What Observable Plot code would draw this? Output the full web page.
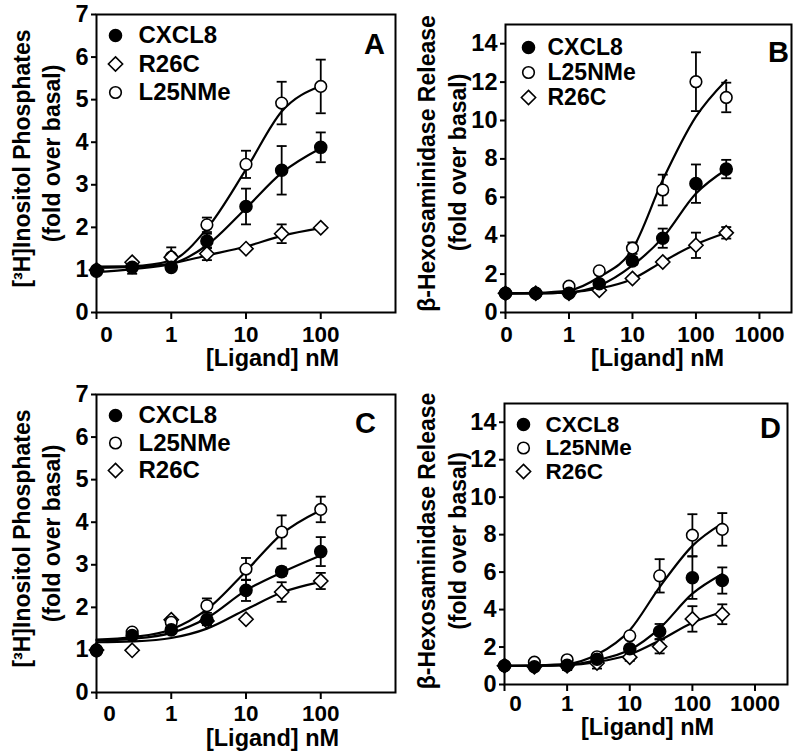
<!DOCTYPE html>
<html><head><meta charset="utf-8">
<script src="https://cdn.jsdelivr.net/npm/d3@7"></script>
<script src="https://cdn.jsdelivr.net/npm/@observablehq/plot@0.6"></script>
<style>
body{margin:0;background:#fff;}
#root{position:relative;width:800px;height:755px;background:#fff;}
#root svg{position:absolute;overflow:visible;}
</style></head><body><div id="root"></div>
<script>
const FONT = '"Liberation Sans", Arial, Helvetica, sans-serif';

// ---------- data ----------
const doses7 = [0, 0.3, 1, 3, 10, 30, 100];
const doses8 = [0, 0.3, 1, 3, 10, 30, 100, 300];

// Panel A : [3H]Inositol Phosphates
const A_CXCL8 = [0.97, 1.06, 1.06, 1.68, 2.49, 3.34, 3.88];
const A_CXCL8_err = [0, 0.15, 0.05, 0.17, 0.42, 0.57, 0.35];
const A_CXCL8_fit = [0.95, 1.02, 1.14, 1.58, 2.45, 3.28, 3.86];
const A_R26C = [1.0, 1.18, 1.3, 1.38, 1.5, 1.85, 1.99];
const A_R26C_err = [0, 0.05, 0.05, 0.15, 0.05, 0.22, 0.05];
const A_R26C_fit = [1.05, 1.07, 1.15, 1.34, 1.55, 1.8, 1.98];
const A_L25NMe = [1.0, 1.1, 1.3, 2.06, 3.48, 4.92, 5.31];
const A_L25NMe_err = [0, 0.05, 0.23, 0.17, 0.32, 0.5, 0.63];
const A_L25NMe_fit = [1.08, 1.09, 1.22, 1.97, 3.36, 4.72, 5.32];

// Panel B : beta-Hexosaminidase Release
const B_CXCL8 = [1.0, 1.0, 1.0, 1.5, 2.68, 3.87, 6.71, 7.47];
const B_CXCL8_err = [0, 0, 0, 0.1, 0.2, 0.5, 1.0, 0.48];
const B_CXCL8_fit = [1.0, 1.0, 1.05, 1.4, 2.45, 3.9, 6.2, 7.45];
const B_L25NMe = [1.0, 1.0, 1.37, 2.17, 3.35, 6.38, 12.02, 11.2];
const B_L25NMe_err = [0, 0, 0.1, 0.1, 0.3, 0.8, 1.53, 0.77];
const B_L25NMe_fit = [1.0, 1.02, 1.15, 1.85, 3.3, 6.9, 10.2, 12.1];
const B_R26C = [1.0, 1.0, 1.0, 1.16, 1.77, 2.63, 3.5, 4.15];
const B_R26C_err = [0, 0, 0, 0.1, 0.1, 0.1, 0.66, 0.3];
const B_R26C_fit = [1.0, 1.0, 1.05, 1.25, 1.75, 2.65, 3.55, 4.15];

// Panel C : [3H]Inositol Phosphates
const C_CXCL8 = [0.98, 1.34, 1.47, 1.71, 2.4, 2.84, 3.31];
const C_CXCL8_err = [0, 0.05, 0.05, 0.1, 0.25, 0.1, 0.34];
const C_CXCL8_fit = [1.22, 1.26, 1.4, 1.75, 2.4, 2.82, 3.22];
const C_L25NMe = [1.0, 1.42, 1.65, 2.04, 2.9, 3.77, 4.3];
const C_L25NMe_err = [0, 0.05, 0.05, 0.17, 0.26, 0.39, 0.3];
const C_L25NMe_fit = [1.24, 1.3, 1.48, 1.95, 2.85, 3.72, 4.28];
const C_R26C = [1.0, 0.99, 1.71, 1.68, 1.72, 2.36, 2.62];
const C_R26C_err = [0, 0.05, 0.05, 0.1, 0.05, 0.23, 0.19];
const C_R26C_fit = [1.18, 1.2, 1.28, 1.5, 1.95, 2.35, 2.6];

// Panel D : beta-Hexosaminidase Release
const D_CXCL8 = [1.0, 0.95, 1.02, 1.35, 1.91, 2.83, 5.7, 5.55];
const D_CXCL8_err = [0, 0.05, 0.25, 0.1, 0.1, 0.4, 1.13, 0.7];
const D_CXCL8_fit = [1.0, 1.0, 1.05, 1.3, 1.85, 3.0, 4.85, 5.9];
const D_L25NMe = [1.0, 1.19, 1.32, 1.48, 2.6, 5.8, 7.97, 8.28];
const D_L25NMe_err = [0, 0.05, 0.1, 0.1, 0.1, 0.89, 1.12, 0.87];
const D_L25NMe_fit = [1.0, 1.02, 1.1, 1.6, 2.9, 5.2, 7.4, 8.6];
const D_R26C = [1.0, 0.95, 1.0, 1.15, 1.46, 2.03, 3.5, 3.75];
const D_R26C_err = [0, 0.05, 0.1, 0.3, 0.2, 0.37, 0.68, 0.53];
const D_R26C_fit = [1.0, 1.0, 1.03, 1.2, 1.6, 2.35, 3.3, 3.87];

const ipTitle = ["[³H]Inositol Phosphates", "(fold over basal)"];
const hexTitle = ["β-Hexosaminidase Release", "(fold over basal)"];
const xTitle = "[Ligand] nM";
const ticks7 = [0, 1, 2, 3, 4, 5, 6, 7];
const ticks14 = [0, 2, 4, 6, 8, 10, 12, 14];
const xTicks3 = [0.1, 1, 10, 100];
const xTicks4 = [0.1, 1, 10, 100, 1000];
const xTickLabels3 = ["0", "1", "10", "100"];
const xTickLabels4 = ["0", "1", "10", "100", "1000"];

// ---------- rendering ----------
const styles = {
  CXCL8: {symbol: "circle", fill: "black", r: 6},
  L25NMe: {symbol: "circle", fill: "white", r: 5.8},
  R26C: {symbol: "diamond2", fill: "white", r: 6.4}
};
const capSymbol = {draw(ctx, size) {const r = Math.sqrt(size / Math.PI); ctx.moveTo(-r, 0); ctx.lineTo(r, 0);}};
const pos = d => (d === 0 ? 0.1 : d);
const TICK = 23.5;
const XTICK = 22.5;

function panel(cfg) {
  const rows = [], fits = [];
  for (const s of cfg.series) {
    s.mean.forEach((m, i) => rows.push({series: s.name, x: pos(cfg.doses[i]), mean: m, err: s.err[i]}));
    s.fit.forEach((v, i) => fits.push({series: s.name, x: pos(cfg.doses[i]), y: v}));
  }
  const withErr = rows.filter(d => d.err > 0);
  const m = cfg.margin;
  const xLab = cfg.xTicks.map((t, i) => ({x: t, label: cfg.xLabels[i]}));
  const marks = [
    Plot.line(fits, {x: "x", y: "y", z: "series", curve: "monotone-x", stroke: "black", strokeWidth: 2.2}),
    Plot.ruleX(withErr, {x: "x", y1: d => d.mean - d.err, y2: d => d.mean + d.err, stroke: "black", strokeWidth: 1.8}),
    Plot.dot(withErr, {x: "x", y: d => d.mean + d.err, symbol: capSymbol, r: 5, fill: "none", stroke: "black", strokeWidth: 1.8}),
    Plot.dot(withErr, {x: "x", y: d => d.mean - d.err, symbol: capSymbol, r: 5, fill: "none", stroke: "black", strokeWidth: 1.8})
  ];
  for (const s of [...cfg.series].reverse()) {
    const st = styles[s.name];
    marks.push(Plot.dot(rows.filter(d => d.series === s.name), {x: "x", y: "mean", symbol: st.symbol, r: st.r, fill: st.fill, stroke: "black", strokeWidth: 1.6}));
  }
  // legend
  cfg.legendOrder.forEach((name, i) => {
    const st = styles[name];
    marks.push(Plot.dot([name], {frameAnchor: "top-left", dx: cfg.legend.dx, dy: cfg.legend.dy + i * cfg.legend.gap, symbol: st.symbol, r: st.r, fill: st.fill, stroke: "black", strokeWidth: 1.6}));
    marks.push(Plot.text([name], {frameAnchor: "top-left", dx: cfg.legend.tx, dy: cfg.legend.dy + i * cfg.legend.gap, text: d => d, textAnchor: "start", lineAnchor: "middle", fontSize: cfg.legend.fs, fontWeight: "bold", fill: "black"}));
  });
  const zero = xLab.filter(d => d.x === 0.1);
  const rest = xLab.filter(d => d.x !== 0.1);
  marks.push(
    Plot.text([cfg.letter], {frameAnchor: "top-right", dx: cfg.letterPos[0], dy: cfg.letterPos[1], text: d => d, textAnchor: "middle", lineAnchor: "middle", fontSize: 29, fontWeight: "bold", fill: "black"}),
    Plot.frame({stroke: "black", strokeWidth: 2}),
    Plot.axisY({ticks: cfg.yTicks, tickSize: 5, strokeWidth: 2, label: null, tickFormat: () => ""}),
    Plot.axisX({ticks: cfg.xTicks, tickSize: 7, strokeWidth: 2, label: null, tickFormat: () => ""}),
    Plot.text(cfg.yTicks, {y: d => d, text: d => String(d), frameAnchor: "left", dx: -8, textAnchor: "end", lineAnchor: "middle", fontSize: TICK, fontWeight: "bold", fill: "black"}),
    Plot.text(rest, {x: "x", text: "label", frameAnchor: "bottom", dy: 7 + cfg.xPad, lineAnchor: "top", fontSize: XTICK, fontWeight: "bold", fill: "black"}),
    Plot.text(zero, {x: "x", text: "label", frameAnchor: "bottom", dx: cfg.zeroDx, dy: 7 + cfg.xPad, lineAnchor: "top", fontSize: XTICK, fontWeight: "bold", fill: "black"}),
    Plot.text([xTitle], {frameAnchor: "bottom", text: d => d, dx: cfg.xTitlePos[0], dy: cfg.xTitlePos[1], lineAnchor: "top", fontSize: 23.5, fontWeight: "bold", fill: "black"}),
    Plot.text([cfg.yTitle[0]], {frameAnchor: "left", text: d => d, rotate: -90, dx: cfg.yTitlePos[0], dy: cfg.yTitlePos[2], lineAnchor: "middle", textAnchor: "middle", fontSize: 23, fontWeight: "bold", fill: "black"}),
    Plot.text([cfg.yTitle[1]], {frameAnchor: "left", text: d => d, rotate: -90, dx: cfg.yTitlePos[1], dy: cfg.yTitlePos[3], lineAnchor: "middle", textAnchor: "middle", fontSize: 23, fontWeight: "bold", fill: "black"})
  );
  const svg = Plot.plot({
    width: cfg.width, height: cfg.height,
    marginLeft: m.l, marginRight: m.r, marginTop: m.t, marginBottom: m.b,
    x: {type: "log", domain: [0.1, cfg.xMax]},
    y: {domain: [0, cfg.yMax]},
    style: {fontFamily: FONT, fontWeight: "bold", color: "black", background: "white", overflow: "visible"},
    marks
  });
  svg.style.left = cfg.left + "px";
  svg.style.top = cfg.top + "px";
  document.getElementById("root").appendChild(svg);
}

panel({letter: "A", left: 0, top: 0, width: 400, height: 380, margin: {l: 96, r: 5, t: 14, b: 68},
  doses: doses7, xMax: 1000, yMax: 7, yTicks: ticks7, xTicks: xTicks3, xLabels: xTickLabels3, xPad: 7, zeroDx: 10,
  series: [
    {name: "CXCL8", mean: A_CXCL8, err: A_CXCL8_err, fit: A_CXCL8_fit},
    {name: "R26C", mean: A_R26C, err: A_R26C_err, fit: A_R26C_fit},
    {name: "L25NMe", mean: A_L25NMe, err: A_L25NMe_err, fit: A_L25NMe_fit}],
  legendOrder: ["CXCL8", "R26C", "L25NMe"], legend: {dx: 19, dy: 21, gap: 28.5, tx: 42, fs: 24},
  letterPos: [-21, 30], xTitlePos: [26.5, 37], yTitle: ipTitle, yTitlePos: [-74, -44, -5, -10]});

panel({letter: "B", left: 400, top: 0, width: 400, height: 380, margin: {l: 105, r: 9, t: 24, b: 68},
  doses: doses8, xMax: 3200, yMax: 15, yTicks: ticks14, xTicks: xTicks4, xLabels: xTickLabels4, xPad: 7, zeroDx: 1,
  series: [
    {name: "CXCL8", mean: B_CXCL8, err: B_CXCL8_err, fit: B_CXCL8_fit},
    {name: "L25NMe", mean: B_L25NMe, err: B_L25NMe_err, fit: B_L25NMe_fit},
    {name: "R26C", mean: B_R26C, err: B_R26C_err, fit: B_R26C_fit}],
  legendOrder: ["CXCL8", "L25NMe", "R26C"], legend: {dx: 23, dy: 23, gap: 25, tx: 42, fs: 23},
  letterPos: [-13, 28], xTitlePos: [9, 37], yTitle: hexTitle, yTitlePos: [-78, -47, -5, -6]});

panel({letter: "C", left: 0, top: 380, width: 400, height: 375, margin: {l: 96, r: 5, t: 14, b: 63},
  doses: doses7, xMax: 1000, yMax: 7, yTicks: ticks7, xTicks: xTicks3, xLabels: xTickLabels3, xPad: 6, zeroDx: 13,
  series: [
    {name: "CXCL8", mean: C_CXCL8, err: C_CXCL8_err, fit: C_CXCL8_fit},
    {name: "L25NMe", mean: C_L25NMe, err: C_L25NMe_err, fit: C_L25NMe_fit},
    {name: "R26C", mean: C_R26C, err: C_R26C_err, fit: C_R26C_fit}],
  legendOrder: ["CXCL8", "L25NMe", "R26C"], legend: {dx: 19, dy: 21, gap: 27.5, tx: 42, fs: 24},
  letterPos: [-30, 29], xTitlePos: [26.5, 37], yTitle: ipTitle, yTitlePos: [-74, -44, -5, -10]});

panel({letter: "D", left: 400, top: 380, width: 400, height: 375, margin: {l: 104, r: 13, t: 23, b: 71},
  doses: doses8, xMax: 3300, yMax: 15, yTicks: ticks14, xTicks: xTicks4, xLabels: xTickLabels4, xPad: 4, zeroDx: 11,
  series: [
    {name: "CXCL8", mean: D_CXCL8, err: D_CXCL8_err, fit: D_CXCL8_fit},
    {name: "L25NMe", mean: D_L25NMe, err: D_L25NMe_err, fit: D_L25NMe_fit},
    {name: "R26C", mean: D_R26C, err: D_R26C_err, fit: D_R26C_fit}],
  legendOrder: ["CXCL8", "L25NMe", "R26C"], legend: {dx: 19, dy: 21, gap: 23.5, tx: 41, fs: 22.5},
  letterPos: [-17, 25], xTitlePos: [1.5, 34], yTitle: hexTitle, yTitlePos: [-77, -46, -3, -3]});
</script>
</body></html>
